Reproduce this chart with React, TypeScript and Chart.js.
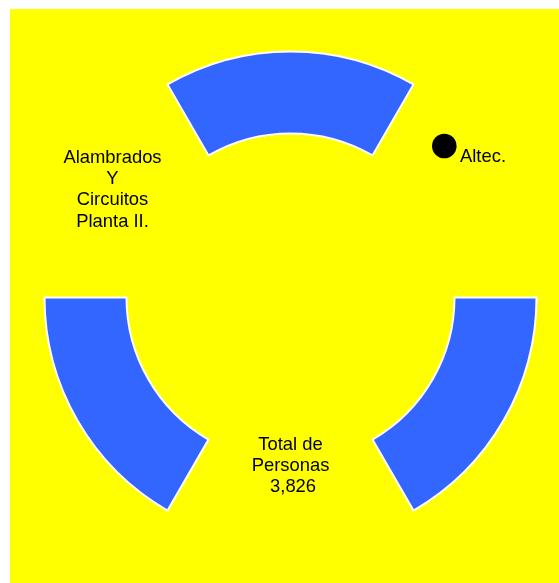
import React, { useEffect, useRef } from "react";
import { Chart, registerables } from "chart.js";

Chart.register(...registerables);

// Ring segments (equal sectors, alternating filled / empty)
const segmentLabels = ["Sector 1", "Hueco 1", "Sector 2", "Hueco 2", "Sector 3", "Hueco 3"];
const segmentValues = [1, 1, 1, 1, 1, 1];
const segmentFilled = [true, false, true, false, true, false];

// Texts
const plantLabelLines = ["Alambrados", "Y", "Circuitos", "Planta II."];
const legendLabel = "Altec.";
const totalLines = ["Total de", "Personas", " 3,826"];

const BLUE = "#3366FF";
const FONT = '18.4px "Liberation Sans", Arial, sans-serif';

const textPlugin = {
  id: "textPlugin",
  afterDraw(chart: any) {
    const ctx = chart.ctx as CanvasRenderingContext2D;
    const area = chart.chartArea;
    const cx = (area.left + area.right) / 2;
    const cy = (area.top + area.bottom) / 2;
    ctx.save();
    ctx.fillStyle = "#000000";
    ctx.font = FONT;
    ctx.textBaseline = "alphabetic";

    // left label
    ctx.textAlign = "center";
    plantLabelLines.forEach((line, i) => {
      ctx.fillText(line, cx - 178, cy - 135 + i * 21.4);
    });

    // total label
    totalLines.forEach((line, i) => {
      ctx.fillText(line, cx, cy + 152.5 + i * 21);
    });

    // legend
    ctx.beginPath();
    ctx.arc(cx + 153.8, cy - 151.5, 12.3, 0, Math.PI * 2);
    ctx.fill();
    ctx.textAlign = "left";
    ctx.fillText(legendLabel, cx + 169.5, cy - 135.8);
    ctx.restore();
  },
};

export default function App() {
  const canvasRef = useRef<HTMLCanvasElement | null>(null);

  useEffect(() => {
    if (!canvasRef.current) return;
    const chart = new Chart(canvasRef.current, {
      type: "doughnut",
      data: {
        labels: segmentLabels,
        datasets: [
          {
            data: segmentValues,
            backgroundColor: segmentFilled.map((f) => (f ? BLUE : "rgba(0,0,0,0)")),
            borderColor: segmentFilled.map((f) => (f ? "#FFFFFF" : "rgba(0,0,0,0)")),
            borderWidth: segmentFilled.map((f) => (f ? 2 : 0)),
            borderJoinStyle: "miter",
            hoverOffset: 0,
          } as any,
        ],
      },
      options: {
        animation: false,
        responsive: false,
        maintainAspectRatio: false,
        events: [],
        rotation: -30,
        radius: 246,
        cutout: `${(164 / 246) * 100}%`,
        layout: { padding: { left: 12, top: 3, right: 0, bottom: 0 } },
        plugins: {
          legend: { display: false },
          tooltip: { enabled: false },
          title: { display: false },
        },
      } as any,
      plugins: [textPlugin],
    });
    return () => chart.destroy();
  }, []);

  return (
    <div
      style={{
        position: "absolute",
        left: 10,
        top: 9,
        width: 549,
        height: 574,
        background: "#FFFF00",
      }}
    >
      <canvas ref={canvasRef} width={549} height={574} style={{ display: "block" }} />
    </div>
  );
}
